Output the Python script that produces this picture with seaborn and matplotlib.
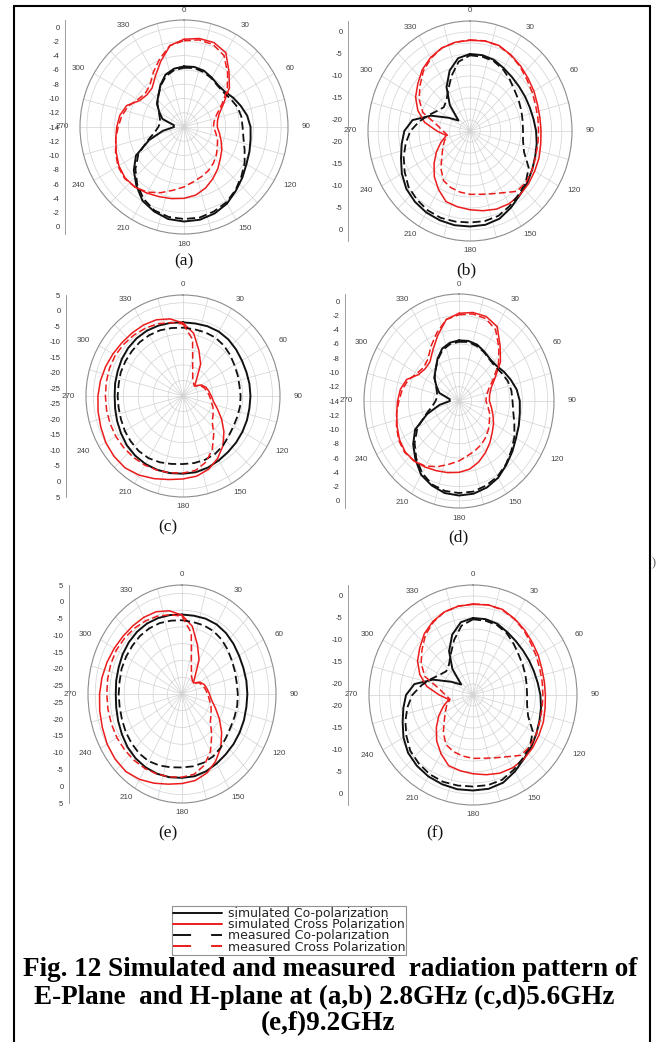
import numpy as np
import matplotlib
matplotlib.use("Agg")
import matplotlib.pyplot as plt
from matplotlib.lines import Line2D
from matplotlib.transforms import offset_copy
import seaborn as sns

W, H = 659, 1042

ANGLES = list(range(0, 360, 10))

# (a) 2.8 GHz E-plane  (dB)
A_SIM_CO = [-5.5, -5.45, -5.6, -6.0, -6.35, -6.3, -5.8, -5.3, -4.75, -4.4, -4.25, -3.95, -3.6, -3.0, -2.35, -1.6, -1.1, -0.8,
            -0.75, -0.9, -1.4, -2.05, -3.3, -4.55, -6.0, -8.65, -10.9, -12.55, -12.5, -10.7, -9.9, -8.9, -8.25, -7.2, -6.2, -5.7]
A_SIM_CROSS = [-1.7, -1.4, -1.4, -1.95, -3.9, -5.45, -7.4, -8.6, -9.1, -9.2, -8.8, -8.3, -7.7, -7.15, -6.4, -5.65, -4.9, -4.3,
               -4.0, -3.8, -3.6, -3.3, -3.0, -2.9, -3.15, -3.6, -4.0, -4.3, -4.6, -5.2, -6.6, -7.0, -6.85, -5.75, -4.2, -2.4]
A_MEAS_CO = [-5.7, -5.6, -5.8, -6.1, -6.45, -6.5, -6.2, -5.8, -5.6, -5.55, -5.3, -4.7, -3.9, -3.2, -2.45, -1.8, -1.4, -1.1,
             -1.1, -1.2, -1.55, -2.35, -3.5, -4.85, -6.4, -8.4, -9.7, -10.3, -10.5, -10.3, -9.8, -9.0, -8.25, -7.3, -6.4, -5.9]
A_MEAS_CROSS = [-1.9, -1.6, -1.7, -2.45, -4.2, -5.85, -7.7, -9.0, -9.6, -9.75, -9.35, -8.85, -8.45, -7.9, -7.4, -6.95, -6.6, -6.2,
                -5.6, -5.0, -4.2, -3.45, -3.0, -2.8, -3.0, -3.5, -4.0, -4.5, -4.9, -5.45, -6.3, -6.7, -6.35, -5.15, -3.8, -2.4]

# (b) 2.8 GHz H-plane
B_SIM_CO = [-5.0, -5.0, -5.3, -6.0, -6.5, -6.8, -6.9, -6.9, -6.7, -6.3, -5.9, -5.5, -4.9, -4.2, -3.5, -2.4, -1.3, -0.85,
            -0.8, -0.75, -0.9, -1.1, -1.5, -2.1, -3.2, -4.5, -5.5, -6.4, -8.2, -12.3, -16.5, -18.8, -14.8, -11.0, -7.9, -5.7]
B_SIM_CROSS = [-1.9, -1.7, -1.8, -2.5, -3.2, -3.9, -4.4, -4.9, -5.1, -5.1, -4.9, -4.5, -4.2, -3.8, -3.5, -3.4, -3.6, -4.1,
               -4.6, -5.0, -5.4, -7.1, -8.9, -11.0, -13.0, -14.9, -16.6, -14.4, -11.2, -8.9, -7.1, -5.8, -4.3, -3.2, -2.4, -2.0]
B_MEAS_CO = [-5.3, -5.35, -5.6, -6.3, -7.3, -8.2, -8.7, -9.1, -9.4, -9.5, -9.3, -8.4, -5.9, -4.6, -3.8, -2.9, -2.0, -1.7,
             -1.7, -1.6, -1.5, -1.7, -2.2, -2.8, -4.0, -5.2, -6.5, -7.9, -9.9, -11.8, -13.3, -14.1, -13.5, -11.8, -9.2, -6.5]
B_MEAS_CROSS = [-1.8, -1.7, -1.9, -2.6, -3.4, -4.3, -4.9, -5.4, -5.6, -5.7, -5.6, -5.4, -4.9, -4.5, -4.6, -6.3, -7.3, -7.9,
                -8.1, -8.4, -8.8, -9.5, -11.4, -13.5, -14.8, -15.8, -16.9, -15.9, -14.2, -10.2, -8.1, -6.5, -4.7, -3.4, -2.4, -2.0]

# (c) 5.6 GHz E-plane
C_SIM_CO = [-3.8, -3.8, -3.6, -3.55, -3.8, -4.25, -4.7, -4.9, -4.9, -4.9, -4.9, -4.7, -4.5, -4.25, -4.0, -3.55, -3.0, -2.6,
            -2.5, -2.3, -2.2, -2.25, -2.5, -2.9, -3.5, -4.0, -4.4, -4.6, -4.4, -4.2, -3.8, -3.5, -3.3, -3.25, -3.4, -3.6]
C_SIM_CROSS = [-4.0, -7.0, -11.9, -15.7, -20.4, -22.4, -20.4, -19.3, -18.7, -18.0, -17.1, -15.2, -12.55, -9.6, -6.65, -4.3, -2.4, -1.3,
               -0.8, -0.2, 0.8, 1.9, 2.7, 2.7, 2.4, 1.8, 1.4, 1.0, 0.6, 0.1, -0.4, -0.8, -1.0, -1.1, -1.4, -2.3]
C_MEAS_CO = [-5.5, -5.7, -5.7, -5.8, -6.25, -6.9, -7.6, -8.0, -8.3, -8.2, -8.1, -8.1, -8.0, -7.5, -6.65, -6.0, -5.7, -5.6,
             -5.6, -5.3, -4.8, -4.4, -4.4, -4.7, -5.0, -5.4, -5.6, -5.6, -5.6, -5.3, -5.2, -5.1, -4.9, -4.9, -5.0, -5.3]
C_MEAS_CROSS = [-4.3, -9.0, -18.0, -21.0, -22.0, -22.5, -20.8, -19.9, -19.3, -18.6, -17.9, -16.8, -15.85, -14.7, -11.5, -7.8, -4.9, -3.2,
                -2.7, -2.4, -2.1, -1.85, -1.7, -1.6, -1.5, -1.5, -1.5, -1.5, -1.4, -1.3, -1.3, -1.6, -1.9, -2.3, -2.8, -3.5]

# (d) 5.6 GHz H-plane
D_SIM_CO = [-5.5, -5.45, -5.6, -6.0, -6.35, -6.3, -5.8, -5.3, -4.75, -4.4, -4.25, -3.95, -3.6, -3.0, -2.35, -1.6, -1.1, -0.8,
            -0.75, -0.9, -1.4, -2.05, -3.3, -4.55, -6.0, -8.65, -10.9, -12.55, -12.5, -10.7, -9.9, -8.9, -8.25, -7.2, -6.2, -5.7]
D_SIM_CROSS = [-1.7, -1.4, -1.4, -1.95, -3.9, -5.45, -7.4, -8.6, -9.1, -9.2, -8.8, -8.3, -7.7, -7.15, -6.4, -5.65, -4.9, -4.3,
               -4.0, -3.8, -3.6, -3.3, -3.0, -2.9, -3.15, -3.6, -4.0, -4.3, -4.6, -5.2, -6.6, -7.0, -6.85, -5.75, -4.2, -2.4]
D_MEAS_CO = [-5.7, -5.6, -5.8, -6.1, -6.45, -6.5, -6.2, -5.8, -5.6, -5.55, -5.3, -4.7, -3.9, -3.2, -2.45, -1.8, -1.4, -1.1,
             -1.1, -1.2, -1.55, -2.35, -3.5, -4.85, -6.4, -8.4, -9.7, -10.3, -10.5, -10.3, -9.8, -9.0, -8.25, -7.3, -6.4, -5.9]
D_MEAS_CROSS = [-1.9, -1.6, -1.7, -2.45, -4.2, -5.85, -7.7, -9.0, -9.6, -9.75, -9.35, -8.85, -8.45, -7.9, -7.4, -6.95, -6.6, -6.2,
                -5.6, -5.0, -4.2, -3.45, -3.0, -2.8, -3.0, -3.5, -4.0, -4.5, -4.9, -5.45, -6.3, -6.7, -6.35, -5.15, -3.8, -2.4]

# (e) 9.2 GHz E-plane
E_SIM_CO = [-3.8, -3.8, -3.6, -3.55, -3.8, -4.25, -4.7, -4.9, -4.9, -4.9, -4.9, -4.7, -4.5, -4.25, -4.0, -3.55, -3.0, -2.6,
            -2.5, -2.3, -2.2, -2.25, -2.5, -2.9, -3.5, -4.0, -4.4, -4.6, -4.4, -4.2, -3.8, -3.5, -3.3, -3.25, -3.4, -3.6]
E_SIM_CROSS = [-4.0, -7.0, -11.9, -15.7, -20.4, -22.4, -20.4, -19.3, -18.7, -18.0, -17.1, -15.2, -12.55, -9.6, -6.65, -4.3, -2.4, -1.3,
               -0.8, -0.2, 0.8, 1.9, 2.7, 2.7, 2.4, 1.8, 1.4, 1.0, 0.6, 0.1, -0.4, -0.8, -1.0, -1.1, -1.4, -2.3]
E_MEAS_CO = [-5.5, -5.7, -5.7, -5.8, -6.25, -6.9, -7.6, -8.0, -8.3, -8.2, -8.1, -8.1, -8.0, -7.5, -6.65, -6.0, -5.7, -5.6,
             -5.6, -5.3, -4.8, -4.4, -4.4, -4.7, -5.0, -5.4, -5.6, -5.6, -5.6, -5.3, -5.2, -5.1, -4.9, -4.9, -5.0, -5.3]
E_MEAS_CROSS = [-4.3, -9.0, -18.0, -21.0, -22.0, -22.5, -20.8, -19.9, -19.3, -18.6, -17.9, -16.8, -15.85, -14.7, -11.5, -7.8, -4.9, -3.2,
                -2.7, -2.4, -2.1, -1.85, -1.7, -1.6, -1.5, -1.5, -1.5, -1.5, -1.4, -1.3, -1.3, -1.6, -1.9, -2.3, -2.8, -3.5]

# (f) 9.2 GHz H-plane
F_SIM_CO = [-5.0, -5.0, -5.3, -6.0, -6.5, -6.8, -6.9, -6.9, -6.7, -6.3, -5.9, -5.5, -4.9, -4.2, -3.5, -2.4, -1.3, -0.85,
            -0.8, -0.75, -0.9, -1.1, -1.5, -2.1, -3.2, -4.5, -5.5, -6.4, -8.2, -12.3, -16.5, -18.8, -14.8, -11.0, -7.9, -5.7]
F_SIM_CROSS = [-1.9, -1.7, -1.8, -2.5, -3.2, -3.9, -4.4, -4.9, -5.1, -5.1, -4.9, -4.5, -4.2, -3.8, -3.5, -3.4, -3.6, -4.1,
               -4.6, -5.0, -5.4, -7.1, -8.9, -11.0, -13.0, -14.9, -16.6, -14.4, -11.2, -8.9, -7.1, -5.8, -4.3, -3.2, -2.4, -2.0]
F_MEAS_CO = [-5.3, -5.35, -5.6, -6.3, -7.3, -8.2, -8.7, -9.1, -9.4, -9.5, -9.3, -8.4, -5.9, -4.6, -3.8, -2.9, -2.0, -1.7,
             -1.7, -1.6, -1.5, -1.7, -2.2, -2.8, -4.0, -5.2, -6.5, -7.9, -9.9, -11.8, -13.3, -14.1, -13.5, -11.8, -9.2, -6.5]
F_MEAS_CROSS = [-1.8, -1.7, -1.9, -2.6, -3.4, -4.3, -4.9, -5.4, -5.6, -5.7, -5.6, -5.4, -4.9, -4.5, -4.6, -6.3, -7.3, -7.9,
                -8.1, -8.4, -8.8, -9.5, -11.4, -13.5, -14.8, -15.8, -16.9, -15.9, -14.2, -10.2, -8.1, -6.5, -4.7, -3.4, -2.4, -2.0]

# radial axis labels shown on the side scale
SCALE_14 = [0, -2, -4, -6, -8, -10, -12, -14]
SCALE_20 = [0, -5, -10, -15, -20]
SCALE_25 = [5, 0, -5, -10, -15, -20, -25]
THETA_LABELS = list(range(0, 360, 30))

LEGEND_LABELS = ["simulated Co-polarization", "simulated Cross Polarization",
                 "measured Co-polarization", "measured Cross Polarization"]
CAPTION = ["Fig. 12 Simulated and measured  radiation pattern of",
           "E-Plane  and H-plane at (a,b) 2.8GHz (c,d)5.6GHz",
           "(e,f)9.2GHz"]

# layout in pixels: centre, half-width, half-height, radial range, ring step, side-scale x, label position
PANELS = [
    dict(tag="(a)", data=(A_SIM_CO, A_SIM_CROSS, A_MEAS_CO, A_MEAS_CROSS), cx=184, cy=127, rx=104, ry=107,
         rmin=-14, rmax=1, ring=2, scale=SCALE_14, sx=65, lx=184, ly=261),
    dict(tag="(b)", data=(B_SIM_CO, B_SIM_CROSS, B_MEAS_CO, B_MEAS_CROSS), cx=470, cy=131, rx=102, ry=110,
         rmin=-22.5, rmax=2.5, ring=2.5, scale=SCALE_20, sx=348, lx=466, ly=270),
    dict(tag="(c)", data=(C_SIM_CO, C_SIM_CROSS, C_MEAS_CO, C_MEAS_CROSS), cx=183, cy=396, rx=97, ry=101,
         rmin=-27.5, rmax=5, ring=5, scale=SCALE_25, sx=66, lx=168, ly=527),
    dict(tag="(d)", data=(D_SIM_CO, D_SIM_CROSS, D_MEAS_CO, D_MEAS_CROSS), cx=459, cy=401, rx=95, ry=107,
         rmin=-14, rmax=1, ring=2, scale=SCALE_14, sx=345, lx=458, ly=537),
    dict(tag="(e)", data=(E_SIM_CO, E_SIM_CROSS, E_MEAS_CO, E_MEAS_CROSS), cx=182, cy=694, rx=94, ry=109,
         rmin=-27.5, rmax=5, ring=5, scale=SCALE_25, sx=69, lx=168, ly=833),
    dict(tag="(f)", data=(F_SIM_CO, F_SIM_CROSS, F_MEAS_CO, F_MEAS_CROSS), cx=473, cy=695, rx=104, ry=110,
         rmin=-22.5, rmax=2.5, ring=2.5, scale=SCALE_20, sx=348, lx=435, ly=833),
]

BLACK = "#111111"
RED = "#ec1c1c"
DASH = (0, (4.5, 2.2))
STYLES = [(BLACK, "-", 1.4), (RED, "-", 1.1), (BLACK, DASH, 1.3), (RED, DASH, 1.1)]

sns.set_theme(style="white")
plt.rcParams["font.family"] = ["Liberation Sans", "DejaVu Sans"]


def fx(px):
    return px / W


def fy(py):
    return 1 - py / H


def draw_panel(fig, p):
    ax = fig.add_axes([fx(p["cx"] - p["rx"]), fy(p["cy"] + p["ry"]), 2 * p["rx"] / W, 2 * p["ry"] / H],
                      projection="polar")
    ax.set_theta_zero_location("N")
    ax.set_theta_direction(-1)
    th = np.deg2rad(ANGLES + [360])
    for vals, (color, ls, lw) in zip(p["data"], STYLES):
        sns.lineplot(x=th, y=list(vals) + [vals[0]], ax=ax, sort=False, estimator=None,
                     color=color, linestyle=ls, linewidth=lw)
    ax.set_aspect("auto")
    ax.set_xlim(0, 2 * np.pi)
    ax.set_ylim(p["rmin"], p["rmax"])
    ax.set_yticks(np.arange(p["rmin"] + p["ring"], p["rmax"] - 1e-6, p["ring"]))
    ax.set_yticklabels([])
    ax.set_xticks(np.deg2rad(np.arange(0, 360, 15)))
    ax.set_xticklabels([])
    ax.grid(True, color="#d2d2d2", linewidth=0.5)
    ax.spines["polar"].set_color("#8c8c8c")
    ax.spines["polar"].set_linewidth(0.8)
    ax.set_xlabel("")
    ax.set_ylabel("")

    # angle labels just outside the rim
    for t in THETA_LABELS:
        a = np.deg2rad(t)
        tr = offset_copy(ax.transData, fig=fig, x=18 * np.sin(a), y=10 * np.cos(a), units="dots")
        ax.text(a, p["rmax"], str(t), transform=tr, ha="center", va="center", fontsize=5.8,
                color="#444444", clip_on=False)

    # Origin-style side scale, mirrored about the centre
    span = p["rmax"] - p["rmin"]
    sax = fig.add_axes([fx(p["sx"]), fy(p["cy"] + p["ry"]), 0.0005, 2 * p["ry"] / H])
    sax.set_ylim(-span, span)
    sax.set_xticks([])
    for s in ["top", "right", "bottom"]:
        sax.spines[s].set_visible(False)
    sax.spines["left"].set_color("#8c8c8c")
    sax.spines["left"].set_linewidth(0.6)
    pos, lab = [], []
    for v in p["scale"]:
        off = v - p["rmin"]
        pos.append(off)
        lab.append(str(v))
        if off > 1e-6:
            pos.append(-off)
            lab.append(str(v))
    sax.set_yticks(pos)
    sax.set_yticklabels(lab)
    minor = []
    for v in range(int(np.ceil(p["rmin"])), int(np.floor(p["rmax"])) + 1):
        off = v - p["rmin"]
        minor += [off, -off]
    sax.set_yticks(minor, minor=True)
    sax.tick_params(axis="y", which="major", direction="out", length=2.5, width=0.5, color="#777777",
                    labelsize=5.5, labelcolor="#333333", pad=1.5)
    sax.tick_params(axis="y", which="minor", direction="out", length=1.3, width=0.4, color="#999999")
    sax.patch.set_alpha(0)

    fig.text(fx(p["lx"]), fy(p["ly"]), p["tag"], ha="center", va="center", fontsize=12.5,
             family="Liberation Serif", color="#111111")


fig = plt.figure(figsize=(W / 100, H / 100), dpi=100)
fig.patch.set_facecolor("white")

for p in PANELS:
    draw_panel(fig, p)

# legend
LEG_DASH = (0, (9.3, 10.3))
handles = [Line2D([], [], color=BLACK, lw=1.4),
           Line2D([], [], color=RED, lw=1.4),
           Line2D([], [], color=BLACK, lw=1.4, linestyle=LEG_DASH),
           Line2D([], [], color=RED, lw=1.4, linestyle=LEG_DASH)]
leg = fig.legend(handles, LEGEND_LABELS, loc="upper left", bbox_to_anchor=(fx(172), fy(906)),
                 fontsize=9, frameon=True, fancybox=False, borderpad=0.1, labelspacing=-0.15,
                 handlelength=3.9, handletextpad=0.45, borderaxespad=0)
leg.get_frame().set_edgecolor("#777777")
leg.get_frame().set_linewidth(0.8)
for t in leg.get_texts():
    t.set_family("DejaVu Sans")
    t.set_color("#222222")

# caption
for txt, x, y in zip(CAPTION, [330, 324, 328], [970, 997, 1024]):
    fig.text(fx(x), fy(y), txt, ha="center", va="center", fontsize=19.5, fontweight="bold",
             family="Liberation Serif", color="black")

fig.text(fx(654), fy(563), ")", ha="center", va="center", fontsize=9, family="Liberation Serif", color="#555555")

# page frame
for xs, ys in [([14, 14], [6, H]), ([14, 650], [6, 6]), ([650, 650], [6, H])]:
    fig.add_artist(Line2D([fx(v) for v in xs], [fy(v) for v in ys], color="black", lw=1.5,
                          transform=fig.transFigure))

fig.savefig("out.png", dpi=100)
